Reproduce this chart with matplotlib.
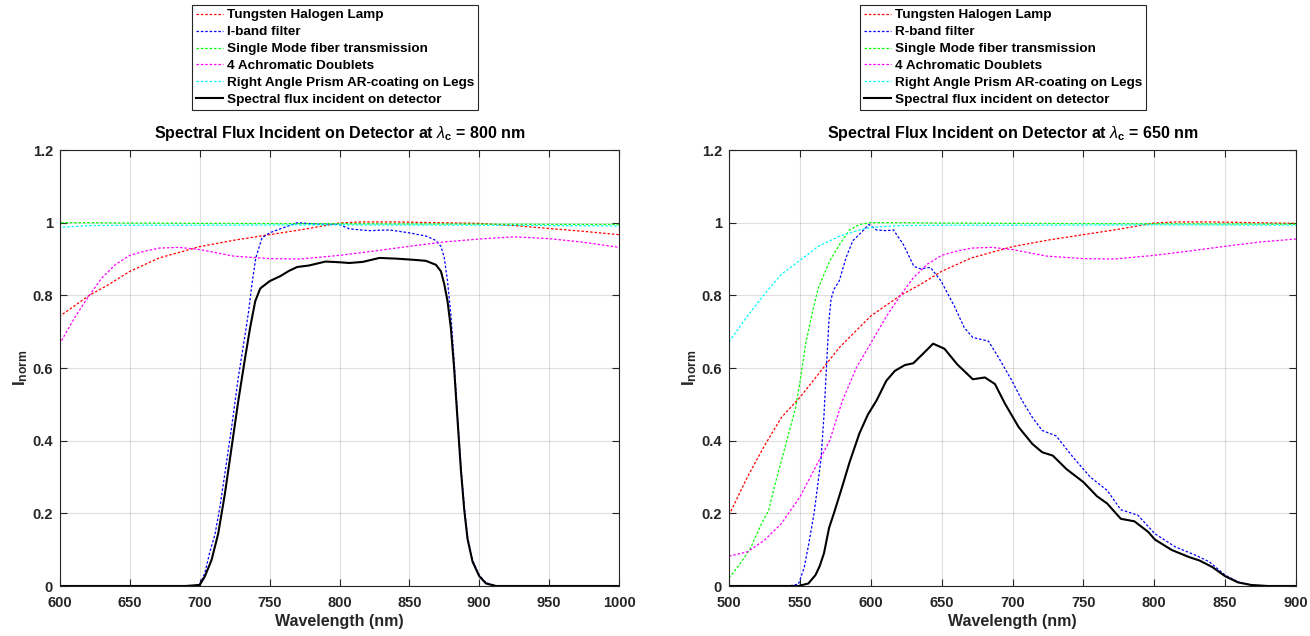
import matplotlib
matplotlib.use("Agg")
import matplotlib.pyplot as plt
from matplotlib.ticker import FixedLocator, FuncFormatter

plt.rcParams['font.family'] = ['Liberation Sans', 'DejaVu Sans']
plt.rcParams['mathtext.fontset'] = 'custom'
plt.rcParams['mathtext.rm'] = 'Liberation Sans'
plt.rcParams['mathtext.bf'] = 'Liberation Sans:bold'
plt.rcParams['mathtext.it'] = 'Liberation Sans:italic'

# ---------------- data ----------------
lamp_wl = [500, 513, 525, 537, 550, 563, 578, 600, 621, 635, 650, 671, 700, 725, 750,
           775, 800, 815, 840, 870, 900, 925, 950, 975, 1000]
lamp_val = [0.195, 0.30, 0.386, 0.464, 0.519, 0.583, 0.657, 0.743, 0.80, 0.83, 0.866, 0.903,
            0.934, 0.952, 0.967, 0.982, 0.999, 1.002, 1.002, 1.0, 0.998, 0.992, 0.984, 0.976, 0.967]

fiber_wl = [500, 508, 515, 523, 528, 532, 537, 542, 547, 550, 554, 559, 563, 571, 578, 585,
            592, 600, 620, 650, 700, 800, 900, 1000]
fiber_val = [0.022, 0.062, 0.103, 0.172, 0.208, 0.273, 0.345, 0.418, 0.491, 0.56, 0.665, 0.757,
             0.82, 0.894, 0.94, 0.98, 0.995, 1.0, 1.0, 0.999, 0.998, 0.997, 0.996, 0.995]

prism_wl = [500, 513, 525, 537, 550, 563, 578, 592, 600, 621, 650, 700, 800, 900, 1000]
prism_val = [0.672, 0.743, 0.803, 0.858, 0.896, 0.935, 0.963, 0.98, 0.987, 0.992, 0.993,
             0.993, 0.994, 0.993, 0.991]

doublet_wl = [500, 513, 525, 537, 550, 561, 571, 580, 590, 600, 611, 621, 630, 640, 650, 660,
              671, 685, 700, 724, 750, 772, 800, 825, 850, 875, 900, 925, 950, 975, 1000]
doublet_val = [0.082, 0.094, 0.126, 0.172, 0.245, 0.327, 0.40, 0.51, 0.602, 0.668, 0.742, 0.80,
               0.848, 0.886, 0.910, 0.921, 0.93, 0.932, 0.926, 0.908, 0.901, 0.90, 0.91, 0.922,
               0.935, 0.947, 0.955, 0.961, 0.956, 0.946, 0.932]

iband_wl = [600, 650, 690, 696, 700, 703.6, 707, 711, 714.4, 718, 722.8, 727.6, 732.5, 735,
            737.3, 740.1, 744.5, 750, 759, 770, 783, 800, 807, 821, 835.6, 850, 862, 869, 872.6,
            875, 877.3, 879.7, 882, 884.5, 886.9, 889.3, 891.6, 895.2, 900, 904.8, 912, 950, 1000]
iband_val = [0, 0, 0, 0.001, 0.005, 0.035, 0.09, 0.144, 0.217, 0.31, 0.437, 0.574, 0.693, 0.757,
             0.83, 0.903, 0.958, 0.972, 0.985, 1.0, 0.996, 0.995, 0.983, 0.978, 0.98, 0.972, 0.963,
             0.951, 0.935, 0.903, 0.839, 0.747, 0.62, 0.464, 0.327, 0.217, 0.135, 0.071, 0.03,
             0.009, 0.001, 0, 0]

flux800_wl = [600, 690, 700, 703.6, 708.4, 713.2, 718, 722.8, 727.6, 732.5, 736, 739.7, 743.3,
              750, 757.7, 763.7, 769.7, 778, 790, 800, 807, 816.6, 828.6, 840.6, 852.3, 861.8,
              869, 872.6, 875, 877.3, 879.7, 882, 884.5, 886.9, 889.3, 891.6, 895.2, 900, 904.8,
              912, 950, 1000]
flux800_val = [0, 0, 0.003, 0.026, 0.071, 0.144, 0.254, 0.382, 0.51, 0.629, 0.71, 0.784, 0.819,
               0.839, 0.853, 0.867, 0.878, 0.882, 0.893, 0.891, 0.889, 0.892, 0.903, 0.901, 0.898,
               0.895, 0.884, 0.866, 0.83, 0.784, 0.71, 0.60, 0.455, 0.318, 0.208, 0.13, 0.067,
               0.027, 0.007, 0, 0, 0]

rband_wl = [500, 542, 549, 553, 556, 560, 563, 565, 567, 569, 570.5, 572, 574, 577.8, 582.5,
            587.3, 593, 598.8, 604, 611, 616, 623, 630.4, 635, 642, 649.5, 659, 666, 672, 683,
            690, 699.6, 706.8, 714, 721, 730.8, 742.8, 754.8, 766.8, 776.4, 788.4, 800.4, 814.7,
            829, 838.7, 850, 860, 870, 880, 900]
rband_val = [0, 0, 0.005, 0.05, 0.11, 0.2, 0.29, 0.354, 0.47, 0.62, 0.73, 0.79, 0.816, 0.84,
             0.903, 0.95, 0.972, 0.995, 0.98, 0.978, 0.98, 0.94, 0.88, 0.873, 0.877, 0.84, 0.77,
             0.711, 0.684, 0.674, 0.63, 0.565, 0.51, 0.464, 0.428, 0.413, 0.354, 0.30, 0.263,
             0.21, 0.195, 0.144, 0.108, 0.085, 0.067, 0.03, 0.01, 0.002, 0, 0]

flux650_wl = [500, 549, 556, 561, 564, 567, 570.6, 574, 580, 585, 592, 598, 604, 611, 617, 624,
              630, 637.6, 644, 652, 661, 672, 680.5, 687.6, 694.8, 704.4, 714, 721, 728.4, 738,
              750, 759.6, 766.8, 776.4, 786, 795.7, 800.4, 812.4, 824.3, 832, 841, 850, 859, 868,
              880, 900]
flux650_val = [0, 0, 0.007, 0.03, 0.055, 0.09, 0.16, 0.2, 0.275, 0.34, 0.42, 0.472, 0.51, 0.565,
               0.592, 0.608, 0.613, 0.642, 0.667, 0.653, 0.61, 0.569, 0.574, 0.556, 0.501, 0.437,
               0.391, 0.368, 0.359, 0.322, 0.286, 0.247, 0.227, 0.185, 0.178, 0.149, 0.128, 0.099,
               0.08, 0.07, 0.052, 0.027, 0.01, 0.003, 0, 0]

labels_common = ["Tungsten Halogen Lamp", None, "Single Mode fiber transmission",
                 "4 Achromatic Doublets", "Right Angle Prism AR-coating on Legs",
                 "Spectral flux incident on detector"]
yticks = [0, 0.2, 0.4, 0.6, 0.8, 1.0, 1.2]

# ---------------- figure ----------------
fig = plt.figure(figsize=(13.10, 6.36), dpi=100)
axL = fig.add_axes([60 / 1310, 50 / 636, 559 / 1310, 436 / 636])
axR = fig.add_axes([729 / 1310, 50 / 636, 567 / 1310, 436 / 636])

dash = (0, (2.0, 1.5))
txt_col = (0.15, 0.15, 0.15)


def panel(ax, filt_wl, filt_val, filt_label, flux_wl, flux_val, xlo, xhi, lam, leg_cx):
    h = []
    h += ax.plot(lamp_wl, lamp_val, color=(1, 0, 0), ls=dash, lw=0.9, label=labels_common[0])
    h += ax.plot(filt_wl, filt_val, color=(0, 0, 1), ls=dash, lw=0.9, label=filt_label)
    h += ax.plot(fiber_wl, fiber_val, color=(0, 1, 0), ls=dash, lw=0.9, label=labels_common[2])
    h += ax.plot(doublet_wl, doublet_val, color=(1, 0, 1), ls=dash, lw=0.9, label=labels_common[3])
    h += ax.plot(prism_wl, prism_val, color=(0, 1, 1), ls=dash, lw=0.9, label=labels_common[4])
    h += ax.plot(flux_wl, flux_val, color='k', ls='-', lw=1.5, label=labels_common[5])
    ax.set_xlim(xlo, xhi)
    ax.set_ylim(0, 1.2)
    ax.xaxis.set_major_locator(FixedLocator(list(range(xlo, xhi + 1, 50))))
    ax.yaxis.set_major_locator(FixedLocator(yticks))
    ax.yaxis.set_major_formatter(FuncFormatter(lambda v, p: ('%g' % round(v, 1))))
    ax.grid(True, color=(0.15, 0.15, 0.15), alpha=0.15, lw=0.8)
    ax.set_axisbelow(True)
    ax.tick_params(direction='in', top=True, right=True, length=5, width=0.8,
                   labelsize=10.5, colors=txt_col)
    ax.tick_params(axis='x', pad=7)
    ax.tick_params(axis='y', pad=5)
    for lab in ax.get_xticklabels() + ax.get_yticklabels():
        lab.set_fontweight('bold')
    for sp in ax.spines.values():
        sp.set_color(txt_col)
        sp.set_linewidth(0.8)
    ax.set_xlabel('Wavelength (nm)', fontsize=11.5, fontweight='bold', color=txt_col, labelpad=3)
    ax.set_ylabel(r'$\mathbf{I_{norm}}$', fontsize=12.5, color=txt_col, labelpad=2)
    ax.set_title('Spectral Flux Incident on Detector at ' + r'$\lambda_{\mathbf{c}}$' + ' = %d nm' % lam,
                 fontsize=11.5, fontweight='bold', color='k', pad=9)
    leg = fig.legend(handles=h, loc='upper center', bbox_to_anchor=(leg_cx, 1 - 5 / 636),
                     bbox_transform=fig.transFigure, fancybox=False, framealpha=1,
                     edgecolor=txt_col, prop={'weight': 'bold', 'size': 9.7},
                     handlelength=2.0, handletextpad=0.3, labelspacing=0.33, borderpad=0.3,
                     borderaxespad=0)
    leg.get_frame().set_linewidth(0.8)


panel(axL, iband_wl, iband_val, "I-band filter", flux800_wl, flux800_val, 600, 1000, 800, 335 / 1310)
panel(axR, rband_wl, rband_val, "R-band filter", flux650_wl, flux650_val, 500, 900, 650, 1003 / 1310)

fig.savefig('out.png', dpi=100)
